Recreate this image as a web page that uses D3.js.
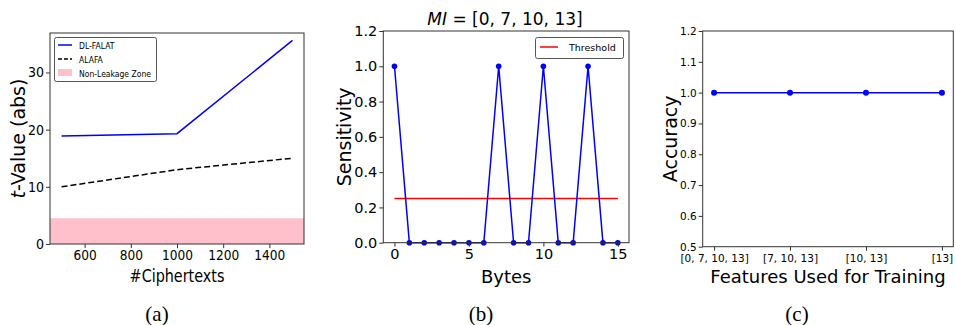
<!DOCTYPE html>
<html>
<head>
<meta charset="utf-8">
<script src="https://cdn.jsdelivr.net/npm/d3@7"></script>
<style>
  body { margin: 0; background: #fff; }
  svg text { font-family: "DejaVu Sans", sans-serif; fill: #000; }
  .cap { font-family: "Liberation Serif", "DejaVu Serif", serif; }
  .tick line { stroke: #333; }
  .domain { display: none; }
</style>
</head>
<body>
<svg id="chart" width="955" height="325"></svg>
<script>
// ---- data (a)
const ciphertexts = [500, 1000, 1500];
const dlFalat = [18.9, 19.3, 35.6];
const alafa = [10, 13, 15];
const nonLeakTop = 4.5;
const ticksA_x = [600, 800, 1000, 1200, 1400];
const ticksA_y = [0, 10, 20, 30];

// ---- data (b)
const bytes = d3.range(16);
const sensitivity = [1, 0, 0, 0, 0, 0, 0, 1, 0, 0, 1, 0, 0, 1, 0, 0];
const threshold = 0.25;
const ticksB_x = [0, 5, 10, 15];
const ticksB_y = [0, 0.2, 0.4, 0.6, 0.8, 1.0, 1.2];

// ---- data (c)
const features = ["[0, 7, 10, 13]", "[7, 10, 13]", "[10, 13]", "[13]"];
const accuracy = [1.0, 1.0, 1.0, 1.0];
const ticksC_y = [0.5, 0.6, 0.7, 0.8, 0.9, 1.0, 1.1, 1.2];

const svg = d3.select("#chart");
const BLUE = "#0000ff";

function frame(g, x0, x1, y0, y1) {
  g.append("rect").attr("x", x0).attr("y", y0)
    .attr("width", x1 - x0).attr("height", y1 - y0)
    .attr("fill", "none").attr("stroke", "#333").attr("stroke-width", 1);
}

function axes(g, x, y, xt, yt, fs, xfmt, yfmt) {
  const ax = g.append("g").attr("transform", `translate(0,${y.range()[0]})`)
    .call(d3.axisBottom(x).tickValues(xt).tickSize(4).tickPadding(2).tickFormat(xfmt));
  ax.selectAll("text").style("font-size", fs + "px");
  const ay = g.append("g").attr("transform", `translate(${x.range()[0]},0)`)
    .call(d3.axisLeft(y).tickValues(yt).tickSize(4).tickPadding(2).tickFormat(yfmt));
  ay.selectAll("text").style("font-size", fs + "px");
  return [ax, ay];
}

// panel (a) in the figure looks squeezed sideways; narrow its texts a bit
function squeeze(sel, k) {
  sel.each(function () {
    const w = this.getComputedTextLength();
    d3.select(this).attr("textLength", w * k).attr("lengthAdjust", "spacingAndGlyphs");
  });
}

//------ Panel (a)
{
  const g = svg.append("g");
  const x = d3.scaleLinear().domain([450, 1550]).range([50, 304]);
  const y = d3.scaleLinear().domain([0, 36.9]).range([244, 33]);

  g.append("rect")
    .attr("x", x(450)).attr("y", y(nonLeakTop))
    .attr("width", x(1550) - x(450)).attr("height", y(0) - y(nonLeakTop))
    .attr("fill", "pink");

  const line = d3.line().x((d, i) => x(ciphertexts[i])).y(d => y(d));
  g.append("path").datum(dlFalat).attr("d", line)
    .attr("fill", "none").attr("stroke", BLUE).attr("stroke-width", 1.5);
  g.append("path").datum(alafa).attr("d", line)
    .attr("fill", "none").attr("stroke", "#000").attr("stroke-width", 1.5)
    .attr("stroke-dasharray", "6,3");

  frame(g, 50, 304, 33, 244);
  const [ax, ay] = axes(g, x, y, ticksA_x, ticksA_y, 14, d3.format("d"), d3.format("d"));
  squeeze(ax.selectAll("text"), 0.87);
  squeeze(ay.selectAll("text"), 0.9);

  // legend
  const lg = g.append("g");
  lg.append("rect").attr("x", 54.5).attr("y", 37.5).attr("width", 102).attr("height", 44)
    .attr("fill", "#fff").attr("fill-opacity", 0.8).attr("stroke", "#555").attr("rx", 2);
  lg.append("line").attr("x1", 58).attr("x2", 72).attr("y1", 45).attr("y2", 45)
    .attr("stroke", BLUE).attr("stroke-width", 1.5);
  lg.append("line").attr("x1", 58).attr("x2", 72).attr("y1", 59).attr("y2", 59)
    .attr("stroke", "#000").attr("stroke-width", 1.5).attr("stroke-dasharray", "4,2");
  lg.append("rect").attr("x", 58).attr("y", 69).attr("width", 14).attr("height", 7).attr("fill", "pink");
  const labs = ["DL-FALAT", "ALAFA", "Non-Leakage Zone"];
  const lt = lg.selectAll("text.lab").data(labs).enter().append("text")
    .attr("x", 79).attr("y", (d, i) => 48.5 + i * 14)
    .style("font-size", "9px").text(d => d);
  squeeze(lt, 0.85);

  const xl = g.append("text").attr("x", x(1000)).attr("y", 282).attr("text-anchor", "middle")
    .style("font-size", "17.5px").text("#Ciphertexts");
  squeeze(xl, 0.82);
  const yl = g.append("text").attr("transform", `translate(25,${(33 + 244) / 2}) rotate(-90)`)
    .attr("text-anchor", "middle").style("font-size", "19px");
  yl.append("tspan").style("font-style", "italic").text("t");
  yl.append("tspan").text("-Value (abs)");
  g.append("text").attr("class", "cap").attr("x", 157).attr("y", 321)
    .attr("text-anchor", "middle").style("font-size", "21px").text("(a)");
}

//------ Panel (b)
{
  const g = svg.append("g");
  const x = d3.scaleLinear().domain([-0.75, 15.75]).range([383.3, 629]);
  const y = d3.scaleLinear().domain([0, 1.2]).range([242.7, 31]);

  g.append("line").attr("x1", x(0)).attr("x2", x(15))
    .attr("y1", y(threshold)).attr("y2", y(threshold))
    .attr("stroke", "#ff0000").attr("stroke-width", 1.5);

  const line = d3.line().x((d, i) => x(bytes[i])).y(d => y(d));
  g.append("path").datum(sensitivity).attr("d", line)
    .attr("fill", "none").attr("stroke", BLUE).attr("stroke-width", 1.5);
  g.selectAll("circle").data(sensitivity).enter().append("circle")
    .attr("cx", (d, i) => x(bytes[i])).attr("cy", d => y(d)).attr("r", 2.8).attr("fill", BLUE);

  frame(g, 383.3, 629, 31, 242.7);
  axes(g, x, y, ticksB_x, ticksB_y, 14.5, d3.format("d"), d3.format(".1f"));

  const lg = g.append("g");
  lg.append("rect").attr("x", 535.5).attr("y", 37.5).attr("width", 88).attr("height", 21)
    .attr("fill", "#fff").attr("stroke", "#555").attr("rx", 2);
  lg.append("line").attr("x1", 540).attr("x2", 558).attr("y1", 47).attr("y2", 47)
    .attr("stroke", "#ff0000").attr("stroke-width", 1.5);
  lg.append("text").attr("x", 569).attr("y", 51).style("font-size", "9.5px").text("Threshold");

  const t = g.append("text").attr("x", 505).attr("y", 25).attr("text-anchor", "middle")
    .style("font-size", "17px");
  t.append("tspan").style("font-style", "italic").text("MI");
  t.append("tspan").text(" = [0, 7, 10, 13]");

  g.append("text").attr("x", x(7.5)).attr("y", 283).attr("text-anchor", "middle")
    .style("font-size", "18px").text("Bytes");
  g.append("text").attr("transform", `translate(344,${(31 + 242.7) / 2}) rotate(-90)`)
    .attr("dy", "0.35em").attr("text-anchor", "middle").style("font-size", "19px").text("Sensitivity");
  g.append("text").attr("class", "cap").attr("x", 481).attr("y", 321)
    .attr("text-anchor", "middle").style("font-size", "21px").text("(b)");
}

//------ Panel (c)
{
  const g = svg.append("g");
  const x = d3.scaleLinear().domain([-0.15, 3.15]).range([702.7, 953.3]);
  const y = d3.scaleLinear().domain([0.5, 1.2]).range([246.7, 31]);

  const line = d3.line().x((d, i) => x(i)).y(d => y(d));
  g.append("path").datum(accuracy).attr("d", line)
    .attr("fill", "none").attr("stroke", BLUE).attr("stroke-width", 1.5);
  g.selectAll("circle").data(accuracy).enter().append("circle")
    .attr("cx", (d, i) => x(i)).attr("cy", d => y(d)).attr("r", 3).attr("fill", BLUE);

  frame(g, 702.7, 953.3, 31, 246.7);
  const [ax] = axes(g, x, y, d3.range(features.length), ticksC_y, 10.5, i => features[i], d3.format(".1f"));
  ax.selectAll("text").attr("dy", "0.9em");

  g.append("text").attr("x", 828).attr("y", 283).attr("text-anchor", "middle")
    .style("font-size", "18px").text("Features Used for Training");
  g.append("text").attr("transform", `translate(670,${(31 + 246.7) / 2}) rotate(-90)`)
    .attr("dy", "0.35em").attr("text-anchor", "middle").style("font-size", "19px").text("Accuracy");
  g.append("text").attr("class", "cap").attr("x", 797).attr("y", 321)
    .attr("text-anchor", "middle").style("font-size", "21px").text("(c)");
}
</script>
</body>
</html>
